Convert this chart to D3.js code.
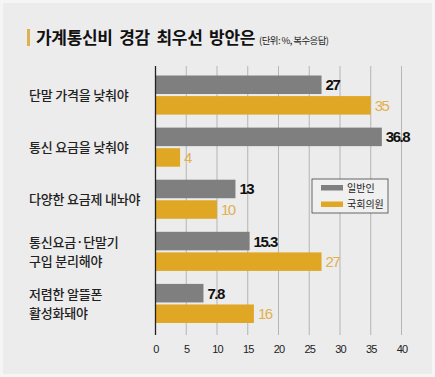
<!DOCTYPE html>
<html><head><meta charset="utf-8">
<script src="https://cdn.jsdelivr.net/npm/d3@7"></script>
<style>
html,body{margin:0;padding:0;background:#f5f5f5;}
svg{display:block;}
text{font-family:"Noto Sans CJK KR","Noto Sans",sans-serif;}
</style></head>
<body><svg id="c" width="435" height="377"></svg>
<script>
const categories = [["단말 가격을 낮춰야"],["통신 요금을 낮춰야"],["다양한 요금제 내놔야"],["통신요금·단말기","구입 분리해야"],["저렴한 알뜰폰","활성화돼야"]];
const seriesNames = ["일반인","국회의원"];
const general = [27, 36.8, 13, 15.3, 7.8];
const lawmakers = [35, 4, 10, 27, 16];
const valueLabels = [["27","36.8","13","15.3","7.8"],["35","4","10","27","16"]];
const ticks = [0,5,10,15,20,25,30,35,40];
const colors = ["#7f7f7f","#e0a725"];
const labelColors = ["#111111","#e2b04e"];
const numFont = "'Liberation Sans','Arial',sans-serif";

const svg = d3.select("#c");
svg.append("rect").attr("x",3).attr("y",3).attr("width",429).attr("height",371).attr("fill","#ececec");

// title
svg.append("rect").attr("x",27).attr("y",29).attr("width",3).attr("height",17).attr("fill","#e0b050");
const t = svg.append("text").attr("x",36).attr("y",44).attr("fill","#111");
t.append("tspan").attr("font-size",17).attr("font-weight",700).attr("letter-spacing",-0.3).attr("word-spacing",3).text("가계통신비 경감 최우선 방안은");
t.append("tspan").attr("font-size",9.5).attr("dx",4).attr("letter-spacing",-0.6).attr("fill","#222").text("(단위: %, 복수응답)");

const x = d3.scaleLinear().domain([0,40]).range([155.5,401.5]);
const y = d3.scaleBand().domain(d3.range(categories.length)).range([69,329.5]).paddingInner(0.25).paddingOuter(0.125);
const y2 = d3.scaleBand().domain([0,1]).range([0,y.bandwidth()]).paddingInner(0.1);

// grid
svg.append("g").selectAll("line").data(ticks.slice(1)).join("line")
  .attr("x1",d=>x(d)).attr("x2",d=>x(d)).attr("y1",66).attr("y2",335)
  .attr("stroke","#b5b5b5").attr("stroke-width",1);

// axis
const ax = svg.append("g").attr("transform","translate(0,335)")
  .call(d3.axisBottom(x).tickValues(ticks).tickSize(0).tickPadding(10));
ax.select(".domain").remove();
ax.selectAll("text").attr("font-size",11).attr("fill","#222").attr("letter-spacing",-0.8)
  .style("font-family",numFont);

const data = [general, lawmakers];
data.forEach((vals,s)=>{
  const g = svg.append("g");
  g.selectAll("rect").data(vals).join("rect")
    .attr("x",x(0)).attr("y",(d,i)=>y(i)+y2(s))
    .attr("width",d=>x(d)-x(0)).attr("height",y2.bandwidth()).attr("fill",colors[s]);
  g.selectAll("text").data(vals).join("text")
    .attr("x",d=>x(d)+4).attr("y",(d,i)=>y(i)+y2(s)+y2.bandwidth()/2+5.5)
    .attr("font-size",15).attr("font-weight",s===0?700:400).attr("letter-spacing",-1.5)
    .style("font-family",numFont)
    .attr("fill",labelColors[s]).text((d,i)=>valueLabels[s][i]);
});

// zero line
svg.append("line").attr("x1",x(0)).attr("x2",x(0)).attr("y1",66).attr("y2",335).attr("stroke","#222").attr("stroke-width",1.3);

// category labels
categories.forEach((lines,i)=>{
  const cy = y(i)+y.bandwidth()/2;
  const n = lines.length;
  const tx = svg.append("text").attr("font-size",13).attr("font-weight",500).attr("fill","#222").attr("letter-spacing",-0.2);
  lines.forEach((l,k)=>{
    tx.append("tspan").attr("x",29).attr("y",cy + 5 + (k-(n-1)/2)*19).text(l);
  });
});

// legend
const lg = svg.append("g");
lg.append("rect").attr("x",312).attr("y",179).attr("width",76).attr("height",34).attr("fill","#f0f0f0").attr("stroke","#444").attr("stroke-width",0.8);
seriesNames.forEach((n,i)=>{
  lg.append("rect").attr("x",321).attr("y",185+i*16.5).attr("width",22).attr("height",5.5).attr("fill",colors[i]);
  lg.append("text").attr("x",347).attr("y",191.5+i*16.5).attr("font-size",10).attr("fill","#222").text(n);
});
</script></body></html>
